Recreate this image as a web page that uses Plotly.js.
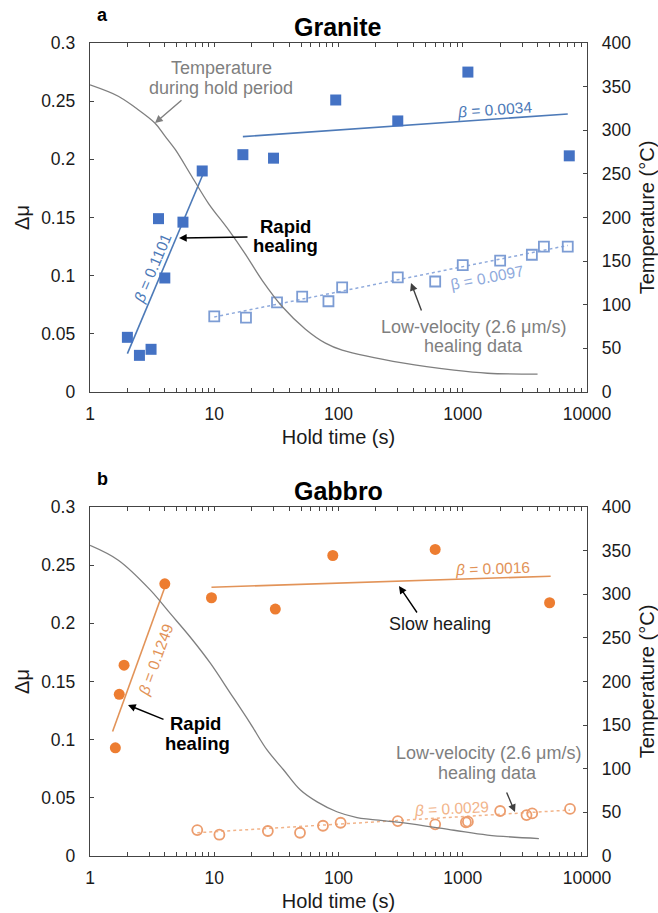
<!DOCTYPE html>
<html>
<head>
<meta charset="utf-8">
<script src="https://cdn.plot.ly/plotly-3.0.1.min.js"></script>
<style>html,body{margin:0;padding:0;background:#fff;}#chart{width:658px;height:913px;}</style>
</head>
<body>
<div id="chart"></div>
<script>
// ---------- Granite (a) ----------
const graniteTime = [2.0, 2.5, 3.1, 3.56, 4.0, 5.6, 8.0, 17, 30, 95, 300, 1100, 7200];
const graniteDmu  = [0.047, 0.0315, 0.0367, 0.149, 0.098, 0.146, 0.190, 0.204, 0.201, 0.251, 0.233, 0.275, 0.203];
const graniteLowTime = [10, 18, 32, 51, 83, 107, 300, 600, 1000, 2000, 3600, 4500, 7000];
const graniteLowDmu  = [0.065, 0.064, 0.077, 0.082, 0.078, 0.090, 0.0985, 0.095, 0.109, 0.113, 0.118, 0.125, 0.125];
const graniteRapidFitTime = [2.0, 8.1];
const graniteRapidFitDmu  = [0.033, 0.187];
const graniteSlowFitTime = [17, 7000];
const graniteSlowFitDmu  = [0.2195, 0.239];
const graniteLowFitTime = [10, 7000];
const graniteLowFitDmu  = [0.0645, 0.126];
const graniteTempTime = [1, 1.69, 2.31, 3.34, 4.03, 4.85, 6.6, 9.0, 13.0, 17.8, 24.3, 35.2, 54.2, 78.5, 107, 336, 851, 1582, 4000];
const graniteTemp     = [352, 339, 326, 308, 293, 278, 247, 216, 186, 158, 128, 98, 72, 56, 48, 33, 25, 21.5, 20.5];

// ---------- Gabbro (b) ----------
const gabbroTime = [1.6, 1.72, 1.88, 4.0, 9.5, 31, 90, 600, 5000];
const gabbroDmu  = [0.093, 0.139, 0.164, 0.234, 0.222, 0.2123, 0.2583, 0.2635, 0.2177];
const gabbroLowTime = [7.3, 11, 27, 49, 75, 104, 300, 600, 1060, 1100, 2000, 3260, 3620, 7300];
const gabbroLowDmu  = [0.0223, 0.0183, 0.0215, 0.020, 0.026, 0.0286, 0.030, 0.0272, 0.029, 0.0295, 0.0387, 0.0352, 0.0366, 0.0405];
const gabbroRapidFitTime = [1.52, 4.0];
const gabbroRapidFitDmu  = [0.107, 0.231];
const gabbroSlowFitTime = [9.5, 5100];
const gabbroSlowFitDmu  = [0.231, 0.2405];
const gabbroLowFitTime = [7.3, 7300];
const gabbroLowFitDmu  = [0.020, 0.0395];
const gabbroTempTime = [1, 1.69, 3.05, 4.42, 6.4, 9.3, 13.5, 19.5, 26.6, 36.2, 49.4, 67.3, 97, 141, 181, 336, 850, 1580, 4100];
const gabbroTemp     = [356, 339, 305, 278, 251, 221, 186.5, 152, 121.5, 98.6, 75.6, 62, 50.7, 44, 42, 38, 29.5, 24, 20];

// ---------- Axis ticks ----------
const xTickVals = [];
const xTickText = [];
[1, 10, 100, 1000].forEach(d => { for (let m = 1; m <= 9; m++) { xTickVals.push(d * m); xTickText.push(m === 1 ? String(d) : ''); } });
xTickVals.push(10000); xTickText.push('10000');
const dmuTicks = [0, 0.05, 0.1, 0.15, 0.2, 0.25, 0.3];
const dmuTickText = ['0', '0.05', '0.1', '0.15', '0.2', '0.25', '0.3'];
const tempTicks = [0, 50, 100, 150, 200, 250, 300, 350, 400];

const FONT = 'Liberation Sans, Arial, sans-serif';
const BLUE = '#4472C4', BLUE_FIT = '#4D7AB8', BLUE_LIGHT = '#8FAADC', BLUE_OPEN = '#7C9CD4';
const ORANGE = '#ED7D31', ORANGE_FIT = '#E29358', ORANGE_LIGHT = '#F2B48A', ORANGE_OPEN = '#EC9D6E';
const GRAY = '#7F7F7F';

function traces(xa, ya, ya2, d) {
  return [
    {x: d.tempT, y: d.temp, xaxis: xa, yaxis: ya2, mode: 'lines', line: {color: GRAY, width: 1.3, shape: 'spline', smoothing: 1.0}, hoverinfo: 'skip'},
    {x: d.rapidFitT, y: d.rapidFitY, xaxis: xa, yaxis: ya, mode: 'lines', line: {color: d.fit, width: 1.6}},
    {x: d.slowFitT, y: d.slowFitY, xaxis: xa, yaxis: ya, mode: 'lines', line: {color: d.fit, width: 1.6}},
    {x: d.lowFitT, y: d.lowFitY, xaxis: xa, yaxis: ya, mode: 'lines', line: {color: d.light, width: 1.5, dash: 'dot'}},
    {x: d.lowT, y: d.lowY, xaxis: xa, yaxis: ya, mode: 'markers', marker: {symbol: d.sym + '-open', size: 10, color: d.open, line: {width: 1.8, color: d.open}}},
    {x: d.t, y: d.y, xaxis: xa, yaxis: ya, mode: 'markers', marker: {symbol: d.sym, size: 11, color: d.main}}
  ];
}

const data = [].concat(
  traces('x', 'y', 'y2', {tempT: graniteTempTime, temp: graniteTemp, rapidFitT: graniteRapidFitTime, rapidFitY: graniteRapidFitDmu,
    slowFitT: graniteSlowFitTime, slowFitY: graniteSlowFitDmu, lowFitT: graniteLowFitTime, lowFitY: graniteLowFitDmu,
    lowT: graniteLowTime, lowY: graniteLowDmu, t: graniteTime, y: graniteDmu, sym: 'square', main: BLUE, fit: BLUE_FIT, light: BLUE_LIGHT, open: BLUE_OPEN}),
  traces('x2', 'y3', 'y4', {tempT: gabbroTempTime, temp: gabbroTemp, rapidFitT: gabbroRapidFitTime, rapidFitY: gabbroRapidFitDmu,
    slowFitT: gabbroSlowFitTime, slowFitY: gabbroSlowFitDmu, lowFitT: gabbroLowFitTime, lowFitY: gabbroLowFitDmu,
    lowT: gabbroLowTime, lowY: gabbroLowDmu, t: gabbroTime, y: gabbroDmu, sym: 'circle', main: ORANGE, fit: ORANGE_FIT, light: ORANGE_LIGHT, open: ORANGE_OPEN})
);

const W = 658, H = 913, L = 90, R = 71, T = 43, B = 57;
const PW = W - L - R, PH = H - T - B;
const px = p => (p - L) / PW;
const py = p => 1 - (p - T) / PH;
const topDom = [py(392), 1];
const botDom = [0, py(507)];

const tickFont = {family: FONT, size: 17.5, color: '#1a1a1a'};
const titleFont = {family: FONT, size: 20, color: '#1a1a1a'};
function xAxis(anchor, dom) {
  return {type: 'log', range: [0, 4], domain: [0, 1], anchor: anchor, tickvals: xTickVals, ticktext: xTickText,
    ticks: 'inside', ticklen: 4, tickcolor: '#444', showline: true, linecolor: '#444', linewidth: 1.3, mirror: 'ticks',
    showgrid: false, zeroline: false, tickfont: tickFont, ticklabelstandoff: 6,
    title: {text: 'Hold time (s)', font: titleFont, standoff: 6}};
}
function yAxis(dom, anchor) {
  return {domain: dom, anchor: anchor, range: [0, 0.3], tickvals: dmuTicks, ticktext: dmuTickText, ticks: 'inside', ticklen: 4,
    tickcolor: '#444', showline: true, linecolor: '#444', linewidth: 1.3, showgrid: false, zeroline: false,
    tickfont: tickFont, ticklabelstandoff: 10, title: {text: 'Δμ', font: titleFont, standoff: 6}};
}
function y2Axis(over, anchor) {
  return {overlaying: over, side: 'right', anchor: anchor, range: [0, 400], tickvals: tempTicks, ticks: 'inside', ticklen: 4,
    tickcolor: '#444', showline: true, linecolor: '#444', linewidth: 1.3, showgrid: false, zeroline: false,
    tickfont: tickFont, ticklabelstandoff: 10, title: {text: 'Temperature (°C)', font: titleFont, standoff: 10}};
}

function txt(text, x, y, opts) {
  return Object.assign({text: text, xref: 'paper', yref: 'paper', x: px(x), y: py(y), xanchor: 'center', yanchor: 'middle',
    showarrow: false, font: {family: FONT, size: 18, color: '#1a1a1a'}}, opts || {});
}
function arrow(hx, hy, tx, ty, color) {
  return {text: '', xref: 'paper', yref: 'paper', x: px(hx), y: py(hy), ax: tx - hx, ay: ty - hy, showarrow: true,
    arrowhead: 2, arrowsize: 1.1, arrowwidth: 1.4, arrowcolor: color, standoff: 0, startstandoff: 0};
}
const gF = s => ({family: FONT, size: s || 18, color: GRAY});

const annotations = [
  // Titles & panel letters
  txt('<b>a</b>', 102, 15, {font: {family: FONT, size: 18, color: '#000'}}),
  txt('<b>Granite</b>', 338, 27, {font: {family: FONT, size: 25, color: '#000'}}),
  txt('<b>b</b>', 102, 479, {font: {family: FONT, size: 18, color: '#000'}}),
  txt('<b>Gabbro</b>', 338, 491, {font: {family: FONT, size: 25, color: '#000'}}),
  // Granite annotations
  txt('Temperature', 221, 68, {font: gF(18)}),
  txt('during hold period', 221, 88, {font: gF(18)}),
  arrow(155, 123, 183, 99, GRAY),
  txt('<i>β</i> = 0.0034', 494, 109, {textangle: -4, font: {family: FONT, size: 15.5, color: BLUE_FIT}}),
  txt('<i>β</i> = 0.1101', 152, 268, {textangle: -67, font: {family: FONT, size: 15.5, color: BLUE_FIT}}),
  txt('<b>Rapid</b>', 285, 226, {font: {family: FONT, size: 18.5, color: '#000'}}),
  txt('<b>healing</b>', 285, 246, {font: {family: FONT, size: 18.5, color: '#000'}}),
  arrow(179, 238, 249, 237, '#000'),
  txt('β = 0.0097', 487, 277, {textangle: -11, font: {family: FONT, size: 15.5, color: BLUE_LIGHT}}),
  txt('Low-velocity (2.6 μm/s)', 473, 327, {font: gF(18)}),
  txt('healing data', 473, 346, {font: gF(18)}),
  arrow(411, 283, 422, 312, '#404040'),
  // Gabbro annotations
  txt('<i>β</i> = 0.0016', 492, 568, {textangle: -2, font: {family: FONT, size: 15.5, color: ORANGE_FIT}}),
  txt('Slow healing', 440, 624, {font: {family: FONT, size: 18, color: '#1a1a1a'}}),
  arrow(399, 586, 418, 614, '#000'),
  txt('<i>β</i> = 0.1249', 155, 660, {textangle: -70, font: {family: FONT, size: 15.5, color: ORANGE_FIT}}),
  txt('<b>Rapid</b>', 195, 723, {font: {family: FONT, size: 18.5, color: '#000'}}),
  txt('<b>healing</b>', 197, 743, {font: {family: FONT, size: 18.5, color: '#000'}}),
  arrow(128, 705, 165, 720, '#000'),
  txt('<i>β</i> = 0.0029', 451, 808, {textangle: -3, font: {family: FONT, size: 15.5, color: ORANGE_LIGHT}}),
  txt('Low-velocity (2.6 μm/s)', 488, 753, {font: gF(18)}),
  txt('healing data', 487, 773, {font: gF(18)}),
  arrow(515, 812, 506, 791, '#404040')
];

const layout = {
  width: W, height: H, margin: {l: L, r: R, t: T, b: B}, paper_bgcolor: '#fff', plot_bgcolor: '#fff',
  showlegend: false, font: {family: FONT},
  xaxis: xAxis('y', topDom),
  yaxis: yAxis(topDom, 'x'),
  yaxis2: y2Axis('y', 'x'),
  xaxis2: xAxis('y3', botDom),
  yaxis3: yAxis(botDom, 'x2'),
  yaxis4: y2Axis('y3', 'x2'),
  annotations: annotations
};
Plotly.newPlot('chart', data, layout, {staticPlot: true, displayModeBar: false});
</script>
</body>
</html>
